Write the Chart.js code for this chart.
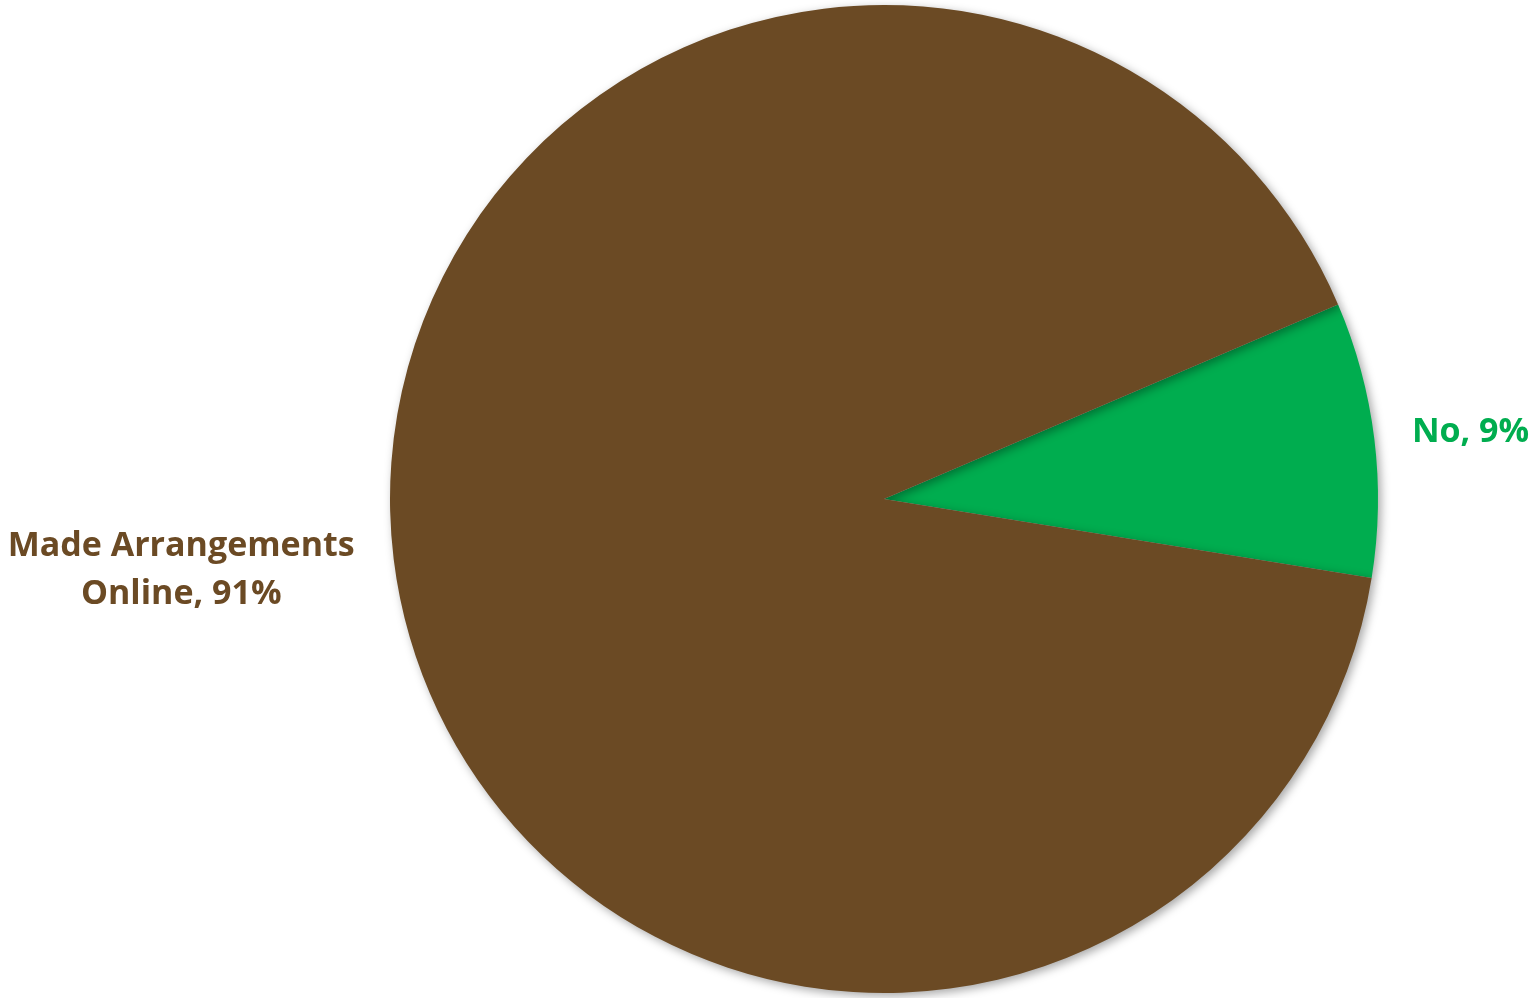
<!DOCTYPE html>
<html>
<head>
<meta charset="utf-8">
<script src="https://cdn.jsdelivr.net/npm/chart.js@4.4.0/dist/chart.umd.min.js"></script>
<style>
  html, body { margin: 0; padding: 0; background: #fff; }
  #wrap { width: 1537px; height: 998px; }
</style>
</head>
<body>
<div id="wrap"><canvas id="pie"></canvas></div>
<script>
const categories = ["No", "Made Arrangements Online"];
const shares = [9, 91];
const labelLines = [["No, 9%"], ["Made Arrangements", "Online, 91%"]];

const colors = ["#00AD4F", "#6B4A24"];
// where each label sits, relative to the slice's middle
const labelDist = [1.195, 1.43];
const labelTurn = [0.5, 1.2];

const shadowPlugin = {
  id: "shadow",
  beforeDatasetsDraw(chart) {
    const ctx = chart.ctx;
    ctx.save();
    ctx.shadowColor = "rgba(0,0,0,0.35)";
    ctx.shadowBlur = 10;
    ctx.shadowOffsetX = 3;
    ctx.shadowOffsetY = 3;
  },
  afterDatasetsDraw(chart) {
    chart.ctx.restore();
  }
};

const labelPlugin = {
  id: "sliceLabels",
  afterDraw(chart) {
    const ctx = chart.ctx;
    const arcs = chart.getDatasetMeta(0).data;
    ctx.save();
    ctx.font = "bold 34px 'Open Sans'";
    ctx.textAlign = "center";
    ctx.textBaseline = "middle";
    arcs.forEach((arc, i) => {
      const mid = (arc.startAngle + arc.endAngle) / 2 + labelTurn[i] * Math.PI / 180;
      const r = arc.outerRadius * labelDist[i];
      const x = arc.x + Math.cos(mid) * r;
      const y = arc.y + Math.sin(mid) * r;
      const lines = labelLines[i];
      const lh = 48;
      ctx.fillStyle = colors[i];
      lines.forEach((t, j) => {
        ctx.fillText(t, x, y + (j - (lines.length - 1) / 2) * lh);
      });
    });
    ctx.restore();
  }
};

new Chart(document.getElementById("pie"), {
  type: "pie",
  data: {
    labels: categories,
    datasets: [{
      data: shares,
      backgroundColor: colors,
      borderWidth: 0
    }]
  },
  options: {
    responsive: true,
    maintainAspectRatio: false,
    animation: false,
    rotation: 66.8,
    layout: { padding: { left: 390, right: 159, top: 5, bottom: 5 } },
    plugins: {
      legend: { display: false },
      tooltip: { enabled: false }
    }
  },
  plugins: [shadowPlugin, labelPlugin]
});
</script>
</body>
</html>
